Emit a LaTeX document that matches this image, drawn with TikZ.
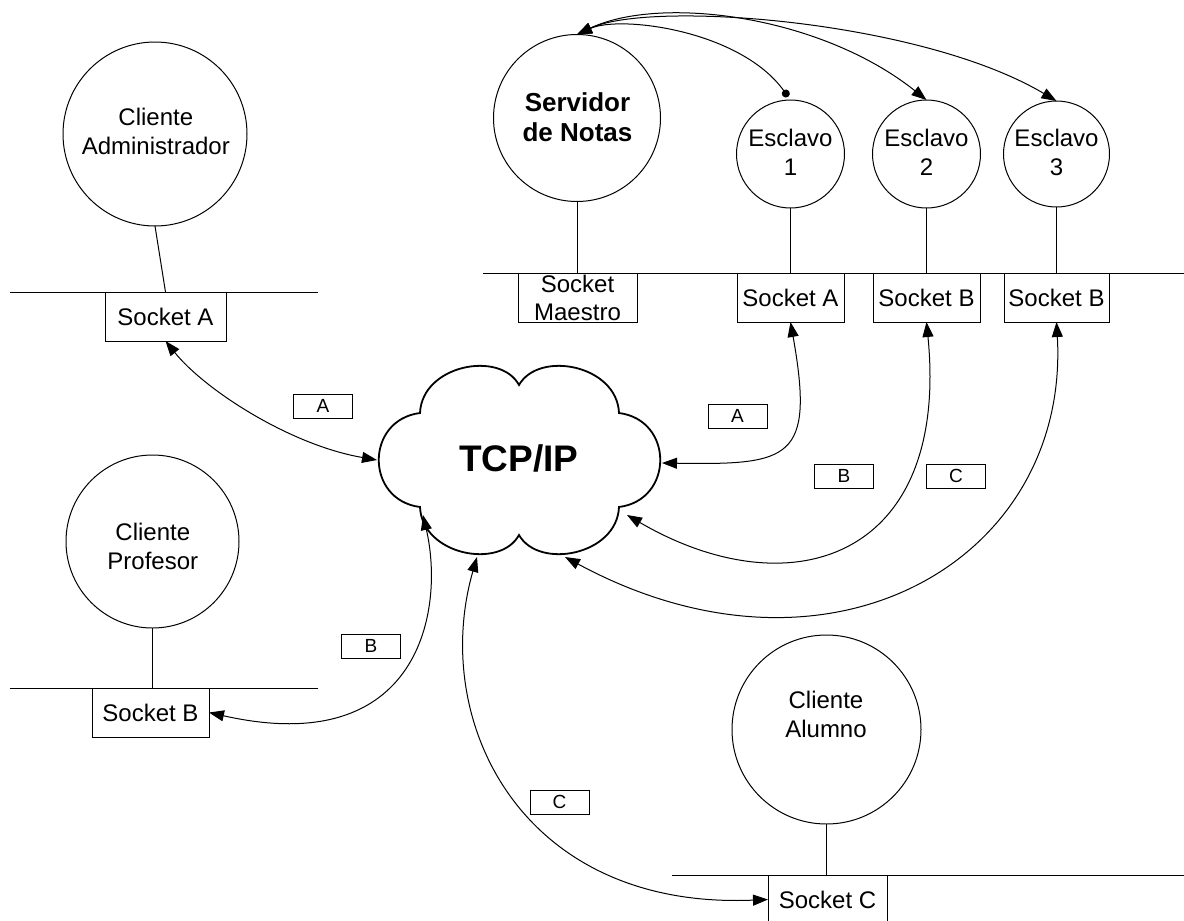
\documentclass[tikz,border=0pt]{standalone}
\usepackage{fontspec}
\setmainfont{Liberation Sans}
\usetikzlibrary{arrows.meta}
\begin{document}
\begin{tikzpicture}[x=1pt,y=-1pt,line width=1pt,
  every node/.style={inner sep=0pt,outer sep=0pt},
  ring/.style={draw,circle,inner sep=0pt,minimum size=#1},
  lbl/.style={font=\fontsize{24}{29}\selectfont,align=center},
  sock/.style={draw,rectangle,minimum height=49pt,minimum width=#1,font=\fontsize{24}{29}\selectfont},
  tag/.style={draw,minimum width=59pt,minimum height=24pt,font=\fontsize{19}{21}\selectfont},
  link/.style={{Triangle[length=15pt,width=11pt]}-{Triangle[length=15pt,width=11pt]}},
  dotlink/.style={{Triangle[length=15pt,width=11pt]}-{Circle[length=8pt]}}
]
\useasboundingbox (0,0) rectangle (1184,921);

% bus lines
\coordinate (busA1) at (10,292);  \coordinate (busA2) at (318,292);
\coordinate (busB1) at (10,688);  \coordinate (busB2) at (318,688);
\coordinate (busC1) at (672,875); \coordinate (busC2) at (1184,875);
\coordinate (busS1) at (483,273); \coordinate (busS2) at (1184,273);
\draw (busA1) -- (busA2);
\draw (busB1) -- (busB2);
\draw (busC1) -- (busC2);
\draw (busS1) -- (busS2);

% circles
\node[ring=184pt] (admin) at (155,134) {};
\node[lbl] (adminT) at (155.8,131) {Cliente\\Administrador};
\node[ring=173pt] (prof) at (152.5,541.5) {};
\node[lbl] (profT) at (152.8,546) {Cliente\\Profesor};
\node[ring=189pt] (alum) at (826.5,729.5) {};
\node[lbl] (alumT) at (826,714.5) {Cliente\\Alumno};
\node[ring=167pt] (serv) at (577,118) {};
\node[lbl,font=\fontsize{26}{30}\selectfont\bfseries] (servT) at (577.5,117.5) {Servidor\\de Notas};
\node[ring=108pt] (e1) at (790.5,154) {};
\node[lbl] (e1T) at (790.5,152.5) {Esclavo\\1};
\node[ring=108pt] (e2) at (926.5,154) {};
\node[lbl] (e2T) at (926.5,152.5) {Esclavo\\2};
\node[ring=106pt] (e3) at (1056.5,154) {};
\node[lbl] (e3T) at (1056.5,152.5) {Esclavo\\3};

% sockets
\node[sock=121pt] (sA) at (165.5,316.5) {Socket A};
\node[sock=117pt] (sB) at (150.5,712.5) {Socket B};
\node[sock=119pt] (sC) at (827.5,899.5) {Socket C};
\node[sock=119pt,align=center,font=\fontsize{24}{28}\selectfont] (sM) at (577.5,297.5) {Socket\\Maestro};
\node[sock=107pt] (s1) at (790.5,297.5) {Socket A};
\node[sock=107pt] (s2) at (926.5,297.5) {Socket B};
\node[sock=105pt] (s3) at (1056.5,297.5) {Socket B};

% stems
\draw (admin.south) -- (sA.north);
\draw (prof.south) -- (prof.south |- sB.north);
\draw (alum.south) -- (alum.south |- sC.north);
\draw (serv.south) -- (serv.south |- sM.north);
\draw (e1.south) -- (s1.north);
\draw (e2.south) -- (s2.north);
\draw (e3.south) -- (s3.north);

% cloud
\draw[line width=1.8pt] (420,413) .. controls (422,365) and (500,350) .. (519,385)
  .. controls (539,350) and (617,365) .. (619,413)
  .. controls (674,420) and (674,500) .. (619,507)
  .. controls (617,555) and (539,570) .. (519,535)
  .. controls (500,570) and (422,555) .. (420,507)
  .. controls (365,500) and (365,420) .. cycle;
\node[font=\fontsize{37}{40}\selectfont\bfseries,anchor=base] (tcp) at (519,471) {TCP/IP};
\coordinate (cL) at (377,460);
\coordinate (cR) at (662,463);
\coordinate (cBL) at (423,515);
\coordinate (cB1) at (477,557);
\coordinate (cB2) at (565,557);
\coordinate (cBR) at (627,515);

% network connectors
\draw[link] (sA.south) .. controls (205,390) and (290,445) .. (cL);
\draw[link] (sB.east) .. controls (420,760) and (445,610) .. (cBL);
\draw[link] (sC.west) .. controls (520,910) and (430,720) .. (cB1);
\draw[link] (s1.south) .. controls (815,460) and (790,465) .. (cR);
\draw[link] (s2.south) .. controls (950,560) and (790,610) .. (cBR);
\draw[link] (s3.south) .. controls (1070,560) and (830,700) .. (cB2);

% server to slaves
\draw[dotlink,shorten >=4pt] (serv.north) .. controls (620,15) and (740,30) .. (e1.north);
\draw[link] (serv.north) .. controls (660,-5) and (820,15) .. (e2.north);
\draw[link] (serv.north) .. controls (650,0) and (920,20) .. (e3.north);

% tags
\node[tag] (tA1) at (323,406) {A};
\node[tag] (tA2) at (737.5,416) {A};
\node[tag] (tB2) at (844,476) {B};
\node[tag] (tC2) at (956,476) {C};
\node[tag] (tB1) at (371,646) {B};
\node[tag] (tC1) at (559.5,802) {C};
\end{tikzpicture}
\end{document}
